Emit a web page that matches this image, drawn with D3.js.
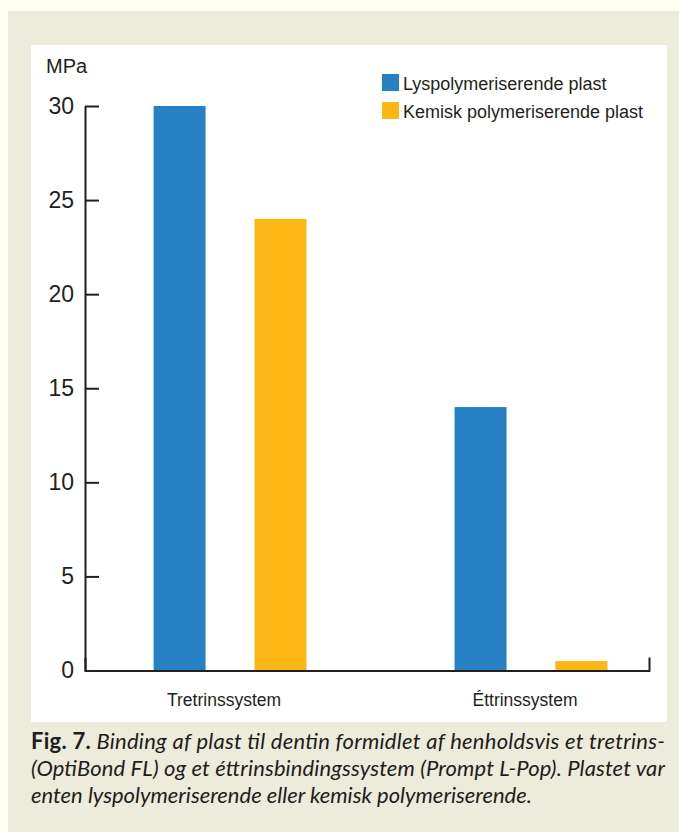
<!DOCTYPE html>
<html>
<head>
<meta charset="utf-8">
<script src="https://cdn.jsdelivr.net/npm/d3@7"></script>
<style>
  html, body { margin: 0; padding: 0; background: #fffff0; }
  svg { display: block; }
</style>
</head>
<body>
<script>
// Bond strength of resin to dentin, two bonding systems, two curing modes
const categories = ["Tretrinssystem", "Éttrinssystem"];
const seriesNames = ["Lyspolymeriserende plast", "Kemisk polymeriserende plast"];
const lysValues = [30, 14];
const kemiskValues = [24, 0.5];
const yTicks = [0, 5, 10, 15, 20, 25, 30];
const unitLabel = "MPa";
const captionBold = "Fig. 7.";
const captionLines = [
  " Binding af plast til dentin formidlet af henholdsvis et tretrins-",
  "(OptiBond FL) og et éttrinsbindingssystem (Prompt L-Pop). Plastet var",
  "enten lyspolymeriserende eller kemisk polymeriserende."
];

const W = 679, H = 832;
const colors = { [seriesNames[0]]: "#2581c4", [seriesNames[1]]: "#fcb615" };
const ink = "#231f20";

const svg = d3.select("body").append("svg")
  .attr("width", W).attr("height", H);

// page frame
svg.append("rect").attr("x", 8).attr("y", 11).attr("width", W - 8).attr("height", H - 11)
  .attr("fill", "#edebd9");
svg.append("rect").attr("x", 31).attr("y", 45).attr("width", 636).attr("height", 677)
  .attr("fill", "#ffffff");

// scales
const y = d3.scaleLinear().domain([0, 30]).range([670.5, 106]);
const x0 = d3.scaleBand().domain(categories).range([85, 649])
  .paddingInner(0.4).paddingOuter(0.137).align(0.664);
const x1 = d3.scaleBand().domain(seriesNames).range([0, x0.bandwidth()])
  .paddingInner(0.485).paddingOuter(0.137);

const rows = categories.map((c, i) => ({
  category: c,
  values: [
    { series: seriesNames[0], value: lysValues[i] },
    { series: seriesNames[1], value: kemiskValues[i] }
  ]
}));

// bars
svg.append("g").selectAll("g").data(rows).join("g")
  .attr("transform", d => `translate(${x0(d.category)},0)`)
  .selectAll("rect").data(d => d.values).join("rect")
  .attr("x", d => x1(d.series))
  .attr("width", x1.bandwidth())
  .attr("y", d => y(d.value))
  .attr("height", d => y(0) - y(d.value))
  .attr("fill", d => colors[d.series]);

// y axis
const yAxis = svg.append("g").attr("transform", "translate(85,0)")
  .call(d3.axisLeft(y).tickValues(yTicks).tickSizeInner(-14).tickSizeOuter(0).tickPadding(11));
yAxis.selectAll("path, line").attr("stroke", ink).attr("stroke-width", 2);
yAxis.selectAll("text").attr("font-family", "Liberation Sans, Arial, sans-serif")
  .attr("font-size", 23).attr("fill", ink);

// x axis
const xAxis = svg.append("g").attr("transform", `translate(0,${y(0)})`)
  .call(d3.axisBottom(x0).tickSizeInner(0).tickSizeOuter(-13).tickPadding(23.5));
xAxis.selectAll("path").attr("stroke", ink).attr("stroke-width", 2);
xAxis.selectAll("text").attr("font-family", "Liberation Sans, Arial, sans-serif")
  .attr("font-size", 17.5).attr("fill", ink).attr("dx", -6);

// unit label
svg.append("text").attr("x", 46).attr("y", 73)
  .attr("font-family", "Liberation Sans, Arial, sans-serif").attr("font-size", 20)
  .attr("fill", ink).text(unitLabel);

// legend
const legend = svg.append("g").selectAll("g").data(seriesNames).join("g")
  .attr("transform", (d, i) => `translate(382,${74 + i * 28})`);
legend.append("rect").attr("width", 17).attr("height", 17).attr("fill", d => colors[d]);
legend.append("text").attr("x", 21).attr("y", 16)
  .attr("font-family", "Liberation Sans, Arial, sans-serif").attr("font-size", 18)
  .attr("fill", ink).text(d => d);

// caption
const capFont = "Lato, 'Open Sans', sans-serif";
const cap = svg.append("g").attr("fill", "#1d1d1b").attr("font-family", capFont);
const probe = cap.append("text").attr("font-size", 20).attr("font-style", "italic")
  .text(captionLines[2]);
const capSize = 20 * 501 / probe.node().getComputedTextLength();
probe.remove();

const baselines = [749, 776, 803];
captionLines.forEach((line, i) => {
  const t = cap.append("text").attr("x", 31).attr("y", baselines[i])
    .attr("font-size", capSize);
  if (i === 0) {
    t.append("tspan").attr("font-weight", "bold").text(captionBold);
  }
  t.append("tspan").attr("font-style", "italic").text(line);
  if (i < 2) {
    t.attr("textLength", 634).attr("lengthAdjust", "spacing");
  }
});
</script>
</body>
</html>
